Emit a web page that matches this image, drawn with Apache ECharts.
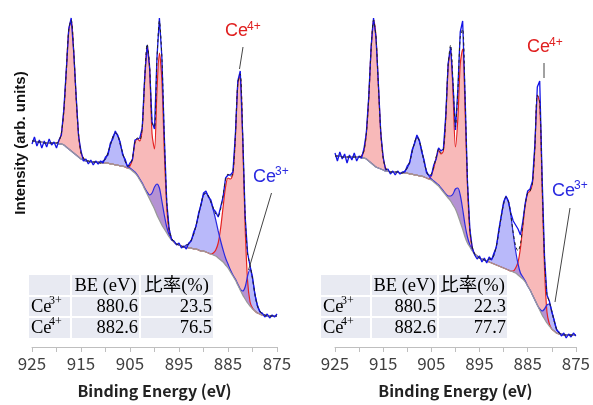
<!DOCTYPE html>
<html>
<head>
<meta charset="UTF-8">
<title>Ce 3d XPS</title>
<script src="https://cdn.jsdelivr.net/npm/echarts@6/dist/echarts.min.js"></script>
<style>
	html, body { margin: 0; padding: 0; background: #fff; }
	#c { width: 593px; height: 405px; }
</style>
</head>
<body>
<div id="c"></div>
<script>
	// binding energy grid (eV), 0.5 eV steps
	var energy = [
		925,924.5,924,923.5,923,922.5,922,921.5,921,920.5,
		920,919.5,919,918.5,918,917.5,917,916.5,916,915.5,
		915,914.5,914,913.5,913,912.5,912,911.5,911,910.5,
		910,909.5,909,908.5,908,907.5,907,906.5,906,905.5,
		905,904.5,904,903.5,903,902.5,902,901.5,901,900.5,
		900,899.5,899,898.5,898,897.5,897,896.5,896,895.5,
		895,894.5,894,893.5,893,892.5,892,891.5,891,890.5,
		890,889.5,889,888.5,888,887.5,887,886.5,886,885.5,
		885,884.5,884,883.5,883,882.5,882,881.5,881,880.5,
		880,879.5,879,878.5,878,877.5,877,876.5,876,875.5,
		875
	];

	// left sample: background, Ce4+ and Ce3+ heights above background, measured spectrum
	var bgA = [
		206,206,205,205,205,204,204,204,204,204,
		204,203,203,202,200,198,196,194,192,190,
		188,187,186,186,185,185,185,185,184,184,
		184,184,183,183,182,182,181,181,180,179,
		178,176,174,171,167,163,158,153,148,143,
		138,132,127,122,118,114,110,107,105,103,
		102,101,100,100,99,99,98,98,97,96,
		96,95,94,93,92,91,89,87,85,82,
		79,75,71,67,62,57,52,48,44,41,
		38,36,34,33,32,32,31,31,31,31,
		31
	];
	var ce4A = [
		0,0,0,0,0,0,0,0,0,0,
		0,3,11,34,76,119,131,103,58,23,
		6,2,0,0,0,0,0,0,0,0,
		0,0,0,0,0,0,0,0,0,0,
		3,12,30,37,39,56,109,148,130,70,
		60,124,167,145,78,26,5,1,0,0,
		0,0,0,0,0,0,0,0,0,0,
		0,0,0,0,2,6,15,32,55,78,
		90,93,102,142,201,215,155,72,22,4,
		1,0,0,0,0,0,0,0,0,0,
		0
	];
	var ce3A = [
		0,0,0,0,0,0,0,0,0,0,
		0,0,0,0,0,0,0,0,0,0,
		0,0,0,0,0,0,0,0,0,2,
		4,10,19,27,32,30,22,13,6,2,
		1,1,1,1,1,1,1,2,4,11,
		22,31,32,24,14,6,2,1,0,0,
		0,0,0,2,4,8,15,24,35,47,
		56,59,57,52,45,36,27,19,12,7,
		4,2,1,1,1,1,4,12,27,37,
		30,17,7,3,1,0,0,0,0,0,
		0
	];
	var rawA = [
		203,210,201,207,199,206,200,208,202,205,
		199,207,212,238,277,318,329,296,252,211,
		196,186,188,183,187,182,186,183,186,184,
		190,192,204,208,216,211,205,192,188,180,
		184,187,207,208,209,219,270,302,280,225,
		218,289,329,290,211,145,118,107,106,102,
		104,99,101,98,104,106,115,121,134,142,
		154,156,150,147,138,135,130,140,150,169,
		172,172,175,212,266,276,212,131,94,81,
		70,52,42,35,34,30,33,29,32,30,
		33
	];

	// right sample
	var bgB = [
		191,191,191,190,190,190,190,190,190,190,
		190,189,189,188,186,184,182,180,179,178,
		177,176,176,175,175,175,175,174,174,174,
		174,173,173,172,172,171,171,170,169,168,
		167,165,163,161,158,155,152,149,146,142,
		138,132,125,118,110,104,100,96,93,91,
		89,88,87,86,85,84,83,82,81,80,
		79,78,77,76,75,74,72,70,68,65,
		61,57,52,47,42,37,32,28,24,21,
		18,16,14,13,13,12,12,12,12,12,
		12
	];
	var ce4B = [
		0,0,0,0,0,0,0,0,0,0,
		0,2,7,25,62,114,145,131,83,37,
		12,3,0,0,0,0,0,0,0,0,
		0,0,0,0,0,0,0,0,0,0,
		5,14,26,36,35,41,77,132,151,112,
		62,96,158,180,128,57,15,3,0,0,
		0,0,0,0,0,0,0,0,0,0,
		0,0,0,0,1,5,13,29,53,77,
		93,99,112,153,210,207,128,50,11,2,
		0,0,0,0,0,0,0,0,0,0,
		0
	];
	var ce3B = [
		0,0,0,0,0,0,0,0,0,0,
		0,0,0,0,0,0,0,0,0,0,
		0,0,0,0,0,0,0,0,0,2,
		5,12,22,32,38,35,26,15,7,3,
		1,1,1,1,1,1,1,2,5,11,
		20,27,27,20,12,6,2,1,0,0,
		0,0,0,0,3,4,9,19,34,50,
		64,72,69,56,38,22,11,4,2,1,
		0,0,0,0,0,1,4,10,18,22,
		18,10,4,1,0,0,0,0,0,0,
		0
	];
	var rawB = [
		194,186,195,188,193,184,192,187,194,186,
		191,189,198,214,250,300,329,310,264,214,
		190,177,178,173,176,172,176,173,175,175,
		181,184,197,203,212,207,195,187,174,172,
		171,182,188,199,196,198,232,284,300,263,
		217,257,315,326,252,165,118,99,92,88,
		91,85,89,84,90,87,94,100,117,131,
		145,151,145,134,126,122,118,112,126,144,
		156,158,166,203,260,266,170,90,52,46,
		35,27,17,15,11,14,9,13,10,14,
		11
	];

	// fit table
	var tableHead = ['BE (eV)', '比率(%)'];
	var tableRows = [
		[['3+', '880.6', '23.5'], ['4+', '882.6', '76.5']],
		[['3+', '880.5', '22.3'], ['4+', '882.6', '77.7']]
	];

	function pts(a) {
		return energy.map(function (e, i) { return [e, a[i]]; });
	}
	function add(a, b) {
		return a.map(function (v, i) { return v + b[i]; });
	}

	var panels = [
		{ bg: bgA, c4: ce4A, c3: ce3A, raw: rawA },
		{ bg: bgB, c4: ce4B, c3: ce3B, raw: rawB }
	];

	var SM = 0.3;
	// area between two curves, drawn through the axis scales
	function band(k, top, bottom, color) {
		return {
			type: 'custom', xAxisIndex: k, yAxisIndex: k, silent: true, clip: true,
			data: [[900, 0]],
			renderItem: function (params, api) {
				var up = [], down = [];
				for (var i = 0; i < energy.length; i++) {
					up.push(api.coord([energy[i], top[i]]));
					down.push(api.coord([energy[i], bottom[i]]));
				}
				return {
					type: 'polygon',
					shape: { points: up.concat(down.reverse()), smooth: SM },
					style: { fill: color }
				};
			}
		};
	}

	var series = [];
	panels.forEach(function (p, k) {
		function s(extra) {
			return Object.assign({ type: 'line', xAxisIndex: k, yAxisIndex: k, symbol: 'none', showSymbol: false, silent: true }, extra);
		}
		var top4 = add(p.bg, p.c4);
		var top3 = add(p.bg, p.c3);
		var env = add(top4, p.c3);
		series.push(band(k, top4, p.bg, 'rgba(240,100,100,0.45)'));
		series.push(band(k, top3, p.bg, 'rgba(100,100,245,0.45)'));
		series.push(s({ data: pts(top4), smooth: SM, lineStyle: { color: '#e52222', width: 1.2 } }));
		series.push(s({ data: pts(top3), smooth: SM, lineStyle: { color: '#2a2ae0', width: 1.2 } }));
		series.push(s({ data: pts(p.bg), smooth: SM, lineStyle: { color: '#9a9a9a', width: 1.3 } }));
		series.push(s({ data: pts(p.raw), lineStyle: { color: '#1414e6', width: 1.3 } }));
		series.push(s({ data: pts(env), smooth: SM, lineStyle: { color: '#222', width: 1, type: [3, 3] } }));
	});

	function xAx(k) {
		return {
			gridIndex: k, type: 'value', inverse: true, min: 875, max: 925, interval: 5,
			axisLine: { lineStyle: { color: '#bfbfbf' } },
			axisTick: { length: 5, lineStyle: { color: '#bfbfbf' } },
			splitLine: { show: false },
			axisLabel: {
				margin: 8, color: '#404040', fontSize: 17, fontFamily: '"Noto Sans CJK JP"',
				showMinLabel: true, showMaxLabel: true,
				formatter: function (v) { return Math.round(925 - v) % 10 === 0 ? String(v) : ''; }
			},
			name: 'Binding Energy (eV)', nameLocation: 'middle', nameGap: 36,
			nameTextStyle: { color: '#222', fontSize: 16, fontWeight: 'bold', fontFamily: '"Noto Sans CJK JP"' }
		};
	}
	function yAx(k) {
		return { gridIndex: k, type: 'value', min: 0, max: 332, show: false };
	}

	// graphic helpers
	function t(x, y, str, size, font, color, align) {
		return {
			type: 'text', x: x, y: y, z: 100,
			style: { text: str, fontSize: size, fontFamily: font, fill: color || '#000', textAlign: align || 'left', textVerticalAlign: 'middle' }
		};
	}
	function ln(x1, y1, x2, y2, color, w) {
		return { type: 'line', z: 100, shape: { x1: x1, y1: y1, x2: x2, y2: y2 }, style: { stroke: color, lineWidth: w || 1 } };
	}
	var serif = '"Liberation Serif", "Noto Sans CJK JP"';
	var arial = '"Liberation Sans", Arial';

	function table(x0, c1, c2, x1, rows) {
		var g = [];
		g.push({ type: 'rect', z: 99, shape: { x: x0, y: 275, width: x1 - x0, height: 63 }, style: { fill: '#e8eaf2' } });
		g.push(ln(c1, 275, c1, 338, '#fff', 2), ln(c2, 275, c2, 338, '#fff', 2));
		g.push(ln(x0, 296, x1, 296, '#fff', 2), ln(x0, 317, x1, 317, '#fff', 2));
		g.push(t((c1 + c2) / 2, 286, tableHead[0], 18.5, serif, '#000', 'center'));
		g.push(t((c2 + x1) / 2, 286, tableHead[1], 18.5, serif, '#000', 'center'));
		rows.forEach(function (r, i) {
			var yc = 307 + i * 21;
			g.push(t(x0 + 2, yc, 'Ce', 18.5, serif));
			g.push(t(x0 + 20, yc - 6, r[0], 12, serif));
			g.push(t(c2 - 2, yc, r[1], 18.5, serif, '#000', 'right'));
			g.push(t(x1 - 1, yc, r[2], 18.5, serif, '#000', 'right'));
		});
		return g;
	}

	var graphics = [];
	graphics = graphics.concat(table(29, 71, 140, 213, tableRows[0]));
	graphics = graphics.concat(table(321, 371, 438, 507, tableRows[1]));
	// labels with leader lines
	graphics.push(t(225, 31, 'Ce', 18, arial, '#e02020'), t(247, 27, '4+', 12, arial, '#e02020'));
	graphics.push(ln(243, 47, 239.5, 69, '#444', 1));
	graphics.push(t(253, 177, 'Ce', 18, arial, '#2a2ae0'), t(275, 172, '3+', 12, arial, '#2a2ae0'));
	graphics.push(ln(271.5, 193, 248.5, 270, '#444', 1));
	graphics.push(t(527, 47, 'Ce', 18, arial, '#e02020'), t(549, 43, '4+', 12, arial, '#e02020'));
	graphics.push(ln(544, 63, 544, 78, '#444', 1));
	graphics.push(t(552, 191, 'Ce', 18, arial, '#2a2ae0'), t(574, 186, '3+', 12, arial, '#2a2ae0'));
	graphics.push(ln(570, 208, 555, 302, '#444', 1));
	// y title
	graphics.push({
		type: 'text', x: 21, y: 143, rotation: Math.PI / 2, z: 100,
		style: { text: 'Intensity (arb. units)', fontSize: 15, fontWeight: 'bold', fontFamily: arial, fill: '#111', textAlign: 'center', textVerticalAlign: 'middle' }
	});

	var chart = echarts.init(document.getElementById('c'));
	chart.setOption({
		animation: false,
		grid: [
			{ left: 32, right: 316, top: 15, bottom: 58 },
			{ left: 335, right: 11, top: 15, bottom: 58 }
		],
		xAxis: [xAx(0), xAx(1)],
		yAxis: [yAx(0), yAx(1)],
		series: series,
		graphic: graphics
	});
</script>
</body>
</html>
